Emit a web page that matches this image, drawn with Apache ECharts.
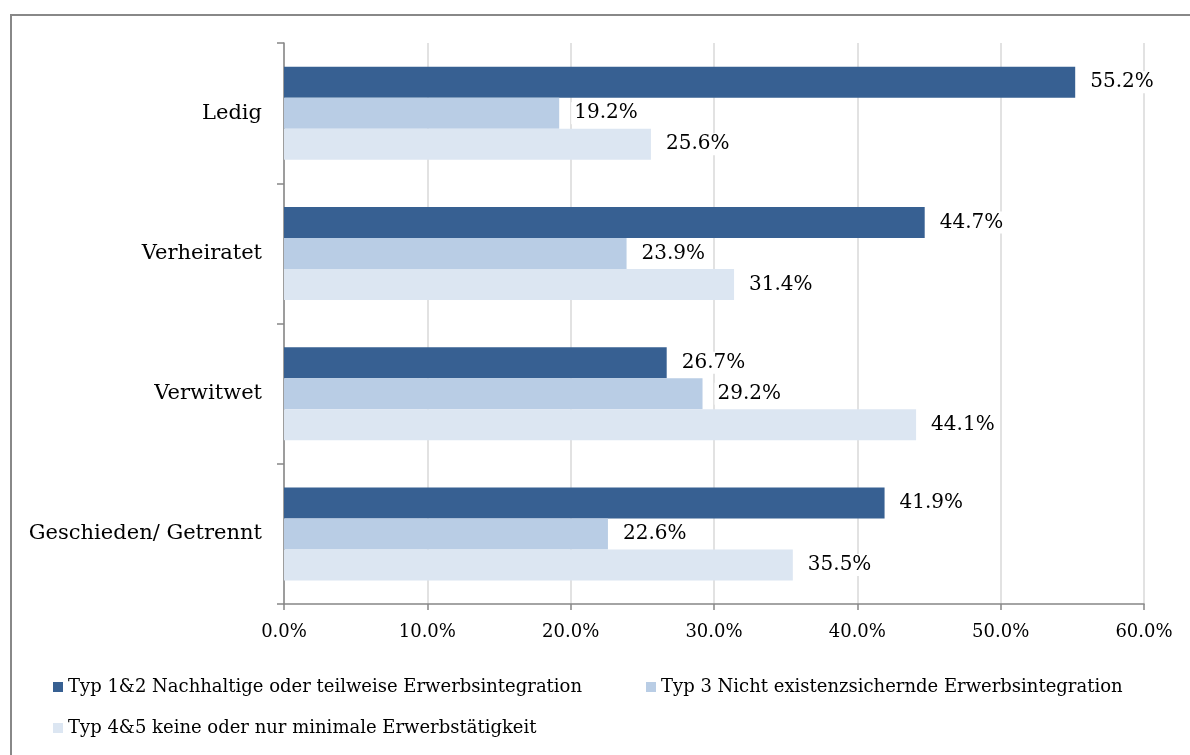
<!DOCTYPE html>
<html>
<head>
<meta charset="utf-8">
<script src="https://cdn.jsdelivr.net/npm/echarts@6/dist/echarts.min.js"></script>
<style>
  html, body { margin: 0; padding: 0; background: #fff; }
  #chart { width: 1190px; height: 755px; }
</style>
</head>
<body>
<div id="chart"></div>
<script>
// Familienstand (Kategorien, von oben nach unten)
const categories = ['Ledig', 'Verheiratet', 'Verwitwet', 'Geschieden/ Getrennt'];

// Anteile in Prozent je Erwerbstyp
const seriesNames = [
  'Typ 1&2 Nachhaltige oder teilweise Erwerbsintegration',
  'Typ 3 Nicht existenzsichernde Erwerbsintegration',
  'Typ 4&5 keine oder nur minimale Erwerbstätigkeit'
];
const typ12 = [55.2, 44.7, 26.7, 41.9];
const typ3  = [19.2, 23.9, 29.2, 22.6];
const typ45 = [25.6, 31.4, 44.1, 35.5];

// Achsenbereich der Prozentachse
const xMin = 0;
const xMax = 60;
const xStep = 10;

const colors = ['#376092', '#B9CDE5', '#DCE6F2'];
const FONT = 'DejaVu Serif';

const chart = echarts.init(document.getElementById('chart'), null, { renderer: 'canvas' });

function barSeries(name, data, color) {
  return {
    name: name,
    type: 'bar',
    data: data,
    barWidth: 31,
    barGap: '0%',
    itemStyle: { color: color },
    label: {
      show: true,
      position: 'right',
      distance: 12,
      formatter: p => p.value.toFixed(1) + '%',
      fontFamily: FONT,
      fontSize: 20,
      color: '#000',
      backgroundColor: '#fff',
      padding: [1, 3]
    },
    z: 3
  };
}

function legendAt(name, left, top) {
  return {
    data: [name],
    left: left,
    top: top,
    icon: 'rect',
    itemWidth: 10,
    itemHeight: 10,
    itemGap: 0,
    textStyle: { fontFamily: FONT, fontSize: 18, color: '#000' },
    selectedMode: false
  };
}

chart.setOption({
  animation: false,
  backgroundColor: '#fff',
  grid: { left: 284, right: 46, top: 43, bottom: 151, containLabel: false },
  xAxis: {
    type: 'value',
    min: xMin,
    max: xMax,
    interval: xStep,
    axisLine: { show: true, lineStyle: { color: '#868686', width: 1.5 } },
    axisTick: { show: true, length: 6, lineStyle: { color: '#868686', width: 1.5 } },
    axisLabel: {
      formatter: v => v.toFixed(1) + '%',
      fontFamily: FONT,
      fontSize: 18,
      color: '#000',
      margin: 19
    },
    splitLine: { show: true, lineStyle: { color: '#D9D9D9', width: 1.5 } }
  },
  yAxis: {
    type: 'category',
    data: categories,
    inverse: true,
    axisLine: { show: true, lineStyle: { color: '#868686', width: 1.5 } },
    axisTick: { show: true, length: 7, lineStyle: { color: '#868686', width: 1.5 } },
    axisLabel: {
      fontFamily: FONT,
      fontSize: 21,
      color: '#000',
      margin: 22
    }
  },
  legend: [
    legendAt(seriesNames[0], 48, 673),
    legendAt(seriesNames[1], 641, 673),
    legendAt(seriesNames[2], 48, 714)
  ],
  series: [
    barSeries(seriesNames[0], typ12, colors[0]),
    barSeries(seriesNames[1], typ3, colors[1]),
    barSeries(seriesNames[2], typ45, colors[2])
  ],
  graphic: [{
    type: 'rect',
    shape: { x: 11, y: 15, width: 1250, height: 800 },
    style: { fill: null, stroke: '#888888', lineWidth: 2 },
    silent: true,
    z: -1
  }]
});
</script>
</body>
</html>
